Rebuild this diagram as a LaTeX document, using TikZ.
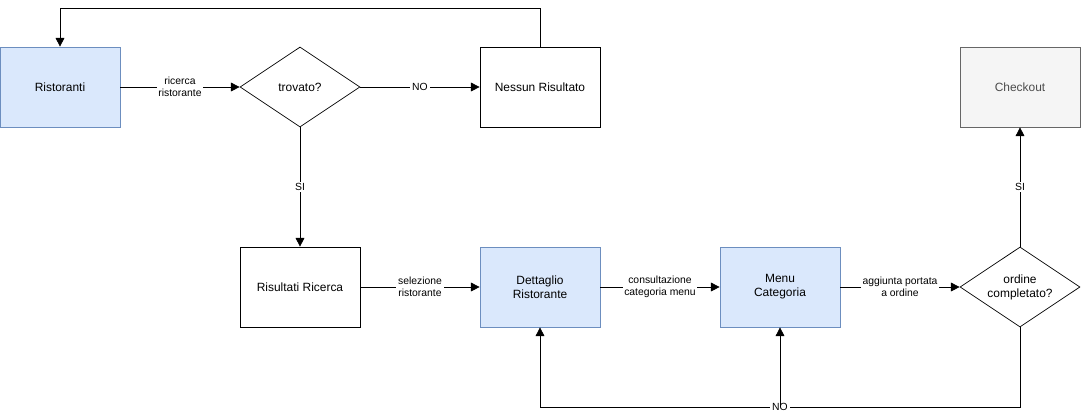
\documentclass[tikz,border=0pt]{standalone}
\usepackage{fontspec}
\setmainfont{Liberation Sans}
\usetikzlibrary{shapes.geometric,arrows.meta,positioning}
\definecolor{boxblue}{HTML}{DAE8FC}
\definecolor{lineblue}{HTML}{6C8EBF}
\definecolor{boxgray}{HTML}{F5F5F5}
\definecolor{linegray}{HTML}{666666}
\tikzset{
  box/.style={draw, minimum width=2.4cm, minimum height=1.6cm, font=\fontsize{6.8}{8}\selectfont, align=center},
  bluebox/.style={box, fill=boxblue, draw=lineblue},
  graybox/.style={box, fill=boxgray, draw=linegray, text=black!70},
  choice/.style={draw, diamond, aspect=1.5, minimum width=2.4cm, minimum height=1.6cm, inner sep=0pt, font=\fontsize{6.8}{8}\selectfont, align=center},
  link/.style={-{Triangle[length=5pt,width=5pt]}},
  tag/.style={fill=white, font=\fontsize{5.9}{7}\selectfont, align=center, inner sep=1pt}
}
\begin{document}
\begin{tikzpicture}[x=0.02cm, y=-0.02cm]
\useasboundingbox (0,0) rectangle (1081,417);

% top row
\node[bluebox] (rist) at (60,87) {Ristoranti};
\node[choice] (trov) at (300,87) {trovato?};
\node[box] (nessun) at (540,87) {Nessun Risultato};
\node[graybox] (check) at (1020,87) {Checkout};

% bottom row
\node[box] (ris) at (300,287) {Risultati Ricerca};
\node[bluebox] (dett) at (540,287) {Dettaglio\\Ristorante};
\node[bluebox] (menu) at (780,287) {Menu\\Categoria};
\node[choice, minimum width=2.4cm, minimum height=1.6cm, aspect=1.5] (ord) at (1020,287) {ordine\\completato?};

\coordinate (back) at (60,8);
\coordinate (loop) at (1020,407);

% connectors
\draw[link] (rist) -- node[tag] {ricerca\\ristorante} (trov);
\draw[link] (trov) -- node[tag] {NO} (nessun);
\draw[link] (nessun.north) |- (back) -- (rist.north);
\draw[link] (trov.south) -- node[tag] {SI} (ris.north);
\draw[link] (ris) -- node[tag] {selezione\\ristorante} (dett);
\draw[link] (dett) -- node[tag] {consultazione\\categoria menu} (menu);
\draw[link] (menu) -- node[tag] {aggiunta portata\\a ordine} (ord);
\draw[link] (ord.north) -- node[tag] {SI} (check.south);
\draw[link] (ord.south) -- (loop) -| node[tag, pos=0.25] {NO} (dett.south);
\draw[link] (menu.south |- loop) -- (menu.south);
\end{tikzpicture}
\end{document}
